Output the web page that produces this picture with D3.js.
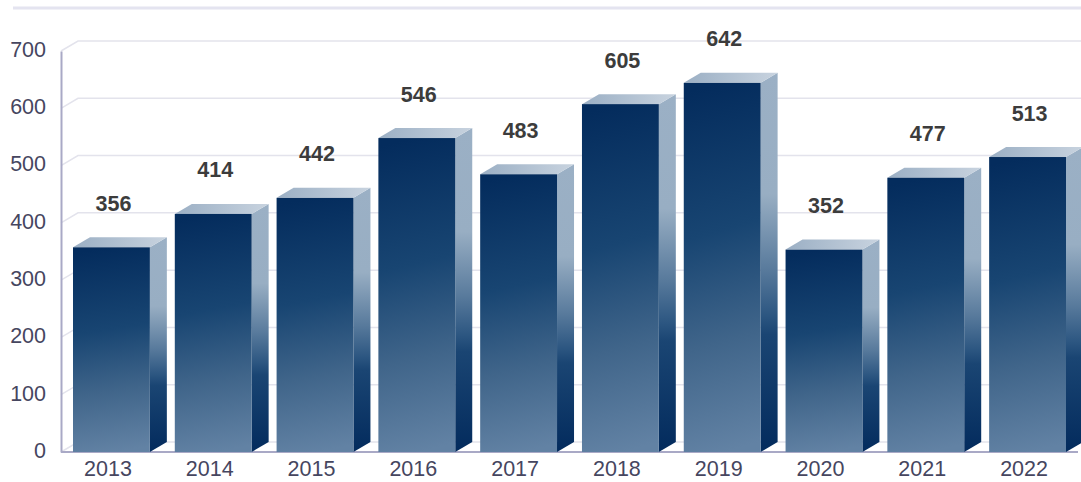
<!DOCTYPE html>
<html>
  <head>
    <meta charset="utf-8">
    <title>Bars 2013-2022</title>
    <script src="https://d3js.org/d3.v7.min.js"></script>
    <style>
      html, body { margin: 0; padding: 0; background: #fff; overflow: hidden; }
      text { font-family: "Liberation Sans", Arial, sans-serif; }
    </style>
  </head>
  <body>
    <svg id="chart" width="1081" height="482"></svg>
    <script>
      // chart data
      const years = ["2013", "2014", "2015", "2016", "2017", "2018", "2019", "2020", "2021", "2022"];
      const values = [356, 414, 442, 546, 483, 605, 642, 352, 477, 513];
      const yTicks = [0, 100, 200, 300, 400, 500, 600, 700];

      const depthX = 17, depthY = 10;
      const axisX = 61, baseY = 452, topY = 51;

      const svg = d3.select("#chart");

      const x = d3.scaleBand()
        .domain(years)
        .range([73, 1066])
        .paddingInner(0.245)
        .paddingOuter(0);
      const y = d3.scaleLinear().domain([0, 700]).range([baseY, topY]);
      // bars sit very slightly taller than the grid in the original
      const barY = d3.scaleLinear().domain([0, 700]).range([baseY, 49.5]);

      // gradients
      const defs = svg.append("defs");
      function gradient(id, coords, stops) {
        const g = defs.append("linearGradient").attr("id", id).attr("gradientUnits", "objectBoundingBox");
        Object.entries(coords).forEach(function(c) { g.attr(c[0], c[1]); });
        stops.forEach(function(s) {
          g.append("stop").attr("offset", s[0]).attr("stop-color", s[1]);
        });
      }
      gradient("front", { x1: 0.47, y1: 0, x2: 0.53, y2: 1 }, [
        [0, "#042c5d"], [0.4, "#184572"], [0.7, "#40658a"], [1, "#6282a4"]
      ]);
      gradient("side", { x1: 0, y1: 0, x2: 0, y2: 1 }, [
        [0, "#9bb0c5"], [0.32, "#98aec3"], [0.52, "#587a9c"], [0.64, "#2c5681"],
        [0.69, "#1a4573"], [1, "#032b5d"]
      ]);
      gradient("top", { x1: 0, y1: 0, x2: 1, y2: 0 }, [
        [0, "#9bafc4"], [1, "#c8d3df"]
      ]);

      // rule left over from the page above the chart
      svg.append("rect")
        .attr("x", 13).attr("y", 6.5)
        .attr("width", 1068).attr("height", 3)
        .attr("fill", "#e4e4f0");

      // back wall gridlines with the slanted side piece
      const grid = svg.append("g")
        .selectAll("path")
        .data(yTicks)
        .join("path")
        .attr("fill", "none")
        .attr("stroke", "#e3e3ec")
        .attr("stroke-width", 1.5)
        .attr("d", function(d) {
          return d3.line()([[axisX, y(d)], [axisX + depthX, y(d) - depthY], [1081, y(d) - depthY]]);
        });

      // axes
      const yAxis = svg.append("g")
        .attr("transform", "translate(" + axisX + ",0)")
        .call(d3.axisLeft(y).tickValues(yTicks).tickSize(0).tickPadding(15));
      yAxis.select(".domain").attr("stroke", "#a9a9c6").attr("stroke-width", 2);
      yAxis.selectAll("text")
        .attr("dy", "0.25em")
        .attr("font-family", null)
        .style("font-size", "21.5px")
        .attr("fill", "#46465f");

      const xAxis = svg.append("g")
        .attr("transform", "translate(-3.5," + baseY + ")")
        .call(d3.axisBottom(x).tickSize(0).tickPadding(9));
      xAxis.select(".domain").remove();
      xAxis.selectAll("text")
        .attr("dy", "0.71em")
        .attr("font-family", null)
        .style("font-size", "21.5px")
        .attr("fill", "#46465f");

      svg.append("line")
        .attr("x1", axisX).attr("x2", 1078)
        .attr("y1", baseY).attr("y2", baseY)
        .attr("stroke", "#a9a9c6")
        .attr("stroke-width", 2);

      // bars
      const bars = svg.append("g")
        .selectAll("g")
        .data(values)
        .join("g");

      bars.append("path")
        .attr("fill", "url(#side)")
        .attr("d", function(d, i) {
          const x1 = x(years[i]) + x.bandwidth();
          return d3.line()([[x1, barY(d)], [x1 + depthX, barY(d) - depthY], [x1 + depthX, baseY - depthY], [x1, baseY]]) + "Z";
        });

      bars.append("path")
        .attr("fill", "url(#top)")
        .attr("d", function(d, i) {
          const x0 = x(years[i]), x1 = x0 + x.bandwidth();
          return d3.line()([[x0, barY(d)], [x0 + depthX, barY(d) - depthY], [x1 + depthX, barY(d) - depthY], [x1, barY(d)]]) + "Z";
        });

      bars.append("rect")
        .attr("fill", "url(#front)")
        .attr("x", function(d, i) { return x(years[i]); })
        .attr("y", function(d) { return barY(d); })
        .attr("width", x.bandwidth())
        .attr("height", function(d) { return baseY - barY(d); });

      // value labels
      bars.append("text")
        .attr("x", function(d, i) { return x(years[i]) + x.bandwidth() / 2 + 2; })
        .attr("y", function(d) { return barY(d) - 36.5; })
        .attr("text-anchor", "middle")
        .attr("font-weight", "bold")
        .attr("font-size", "21.5px")
        .attr("fill", "#3c3c3c")
        .text(function(d) { return d; });
    </script>
  </body>
</html>
